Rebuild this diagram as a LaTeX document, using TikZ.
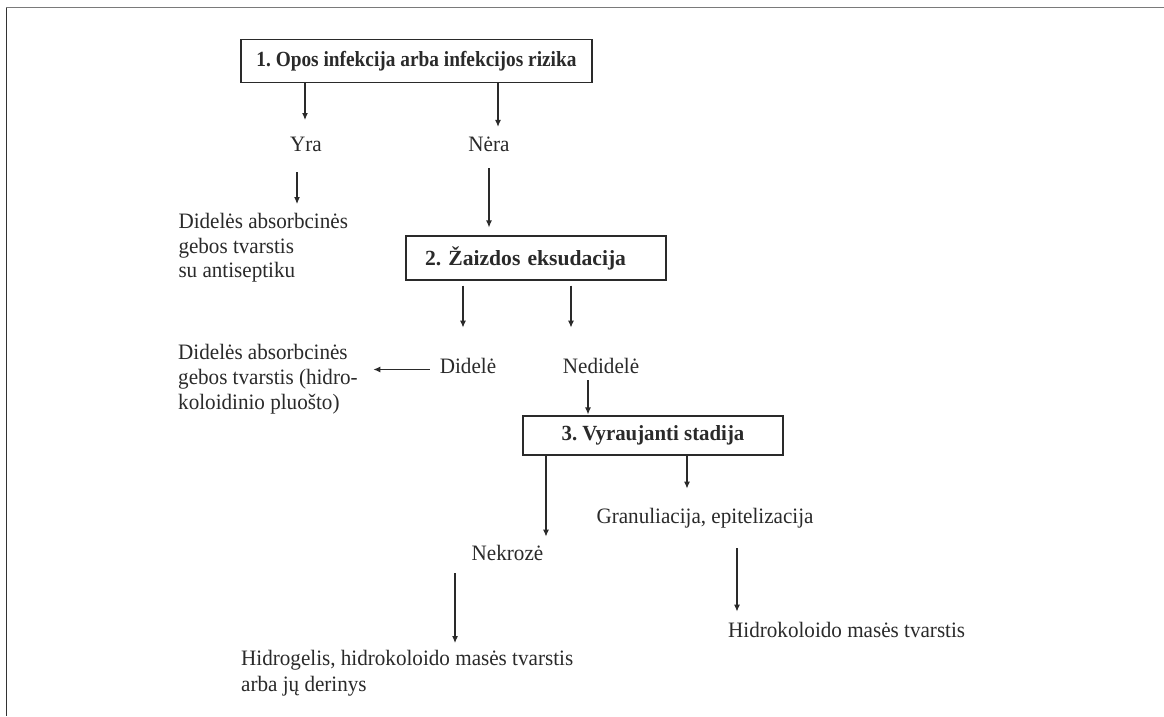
\documentclass[tikz,border=0pt]{standalone}
\usepackage{fontspec}
\setmainfont{Liberation Serif}[FakeStretch=0.96]
\newfontfamily\bfA{Liberation Serif}[FakeStretch=0.895]
\newfontfamily\bfB{Liberation Serif}
\newfontfamily\bfC{Liberation Serif}[FakeStretch=0.965]
\usetikzlibrary{arrows.meta,calc}
\definecolor{ink}{HTML}{2A2A2A}
\definecolor{frametop}{HTML}{7A7A7A}
\frenchspacing
\begin{document}
\begin{tikzpicture}[x=1pt,y=-1pt,
  lbl/.style={inner sep=0pt, text=ink, font=\fontsize{22}{24.5}\selectfont},
  boxnode/.style={draw=ink, line width=1.1pt, inner sep=0pt, text=ink},
  arr/.style={draw=ink, line width=1.1pt, -{Latex[length=7pt,width=6pt]}}]
\useasboundingbox (0,0) rectangle (1164,716);
\fill[white] (0,0) rectangle (1164,716);
\draw[frametop, line width=1.6pt] (6,7.5) -- (1164,7.5);
\draw[black!80, line width=1.5pt] (6.3,7.5) -- (6.3,716);

\node[boxnode, minimum width=351pt, minimum height=43pt, font=\bfA\bfseries\fontsize{21.6}{25}\selectfont] (box1) at (416.5,60.8) {1. Opos infekcija arba infekcijos rizika};
\node[lbl, anchor=base] (yra) at (306,151) {Yra};
\node[lbl, anchor=base] (nera) at (489,151) {Nėra};
\node[lbl, anchor=north west, align=left] (d1) at (178.3,213.3) {Didelės absorbcinės\\gebos tvarstis\\su antiseptiku};
\node[boxnode, minimum width=260pt, minimum height=44pt, text width=222pt, align=left, inner xsep=19pt, font=\bfB\bfseries\fontsize{21.6}{25}\selectfont] (box2) at (536,258) {2. Žaizdos eksudacija};
\node[lbl, anchor=north west, align=left, font=\fontsize{22}{25}\selectfont] (d2) at (178,344) {Didelės absorbcinės\\gebos tvarstis (hidro-\\koloidinio pluošto)};
\node[lbl, anchor=base] (didele) at (468,373) {Didelė};
\node[lbl, anchor=base] (nedidele) at (601,373) {Nedidelė};
\node[boxnode, minimum width=260pt, minimum height=39pt, font=\bfC\bfseries\fontsize{21.6}{25}\selectfont] (box3) at (653,435.5) {3. Vyraujanti stadija};
\node[lbl, anchor=base] (gran) at (705,523) {Granuliacija, epitelizacija};
\node[lbl, anchor=base] (nekroze) at (507.5,560) {Nekrozė};
\node[lbl, anchor=north west, align=left, font=\fontsize{22}{26}\selectfont] (hg) at (241,650) {Hidrogelis, hidrokoloido masės tvarstis\\arba jų derinys};
\node[lbl, anchor=base west] (hk) at (728,637) {Hidrokoloido masės tvarstis};

\draw[arr, shorten >=16.4pt] ($(box1.south)+(-111.5,0)$) -- ($(yra.north)+(-1,0)$);
\draw[arr, shorten >=9.4pt] ($(box1.south)+(81.5,0)$) -- ($(nera.north)+(9,0)$);
\draw[arr, shorten <=21pt, shorten >=9.3pt] ($(yra.south)+(-9,0)$) -- ($(d1.north west)+(118.7,0)$);
\draw[arr, shorten <=17pt, shorten >=8pt] (nera.south) -- ($(box2.north)+(-47,0)$);
\draw[arr, shorten <=5pt, shorten >=30pt] ($(box2.south)+(-73,0)$) -- ($(didele.north)+(-5,0)$);
\draw[arr, shorten <=5pt, shorten >=30pt] ($(box2.south)+(35,0)$) -- ($(nedidele.north)+(-30,0)$);
\draw[arr, shorten <=10pt, shorten >=15.5pt] ($(didele.west)+(0,4)$) -- ($(didele.west -| d2.east)+(0,4)$);
\draw[arr, shorten <=7pt, shorten >=1pt] ($(nedidele.south)+(-13,0)$) -- ($(box3.north)+(-65,0)$);
\draw[arr, shorten >=8pt] ($(box3.south)+(-107,0)$) -- ($(nekroze.north)+(38.5,0)$);
\draw[arr, shorten >=19pt] ($(box3.south)+(34,0)$) -- ($(gran.north)+(-18,0)$);
\draw[arr, shorten <=13pt, shorten >=7pt] ($(nekroze.south)+(-52.5,0)$) -- ($(hg.north west)+(214,0)$);
\draw[arr, shorten <=20.2pt, shorten >=10pt] ($(gran.south)+(32,0)$) -- ($(hk.north west)+(9,0)$);
\end{tikzpicture}
\end{document}
